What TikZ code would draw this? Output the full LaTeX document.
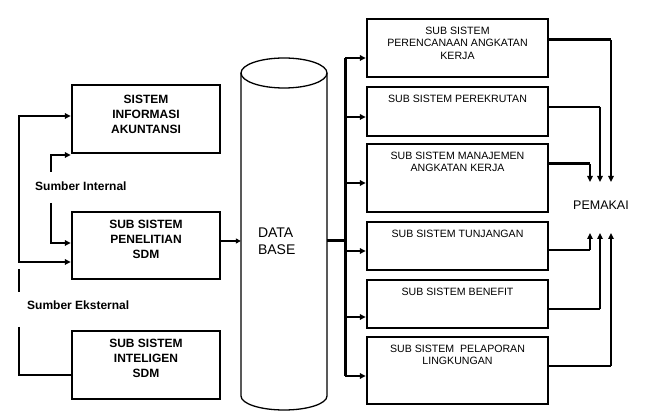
\documentclass[tikz,border=0pt]{standalone}
\usepackage{fontspec}
\setmainfont{Liberation Sans}
\usetikzlibrary{arrows.meta}
\begin{document}
\begin{tikzpicture}[x=1pt,y=-1pt,
  lbox/.style={draw,line width=2.4pt,minimum width=148pt,inner sep=0pt},
  rbox/.style={draw,line width=2.4pt,minimum width=181pt,inner sep=0pt},
  ltxt/.style={font=\bfseries\fontsize{12}{15}\selectfont,align=center,inner sep=0pt},
  rtxt/.style={font=\fontsize{10.6}{12.5}\selectfont,align=center,inner sep=0pt},
  srctxt/.style={font=\bfseries\fontsize{12}{14}\selectfont,inner sep=0pt,anchor=west},
  conn/.style={line width=2pt},
  thickconn/.style={line width=3pt},
  arr/.style={conn,-{Triangle[length=6pt,width=5.5pt]}},
  cyl/.style={line width=1.3pt}
]
\useasboundingbox (0,0) rectangle (645,419);

% left boxes
\node[lbox,minimum height=68pt,label={[ltxt,anchor=north,yshift=-11pt]north:{SISTEM\\INFORMASI\\AKUNTANSI}}] (L1) at (146,119) {};
\node[lbox,minimum height=67pt,label={[ltxt,anchor=north,yshift=-9pt]north:{SUB SISTEM\\PENELITIAN\\SDM}}] (L2) at (146,245.5) {};
\node[lbox,minimum height=68pt,label={[ltxt,anchor=north,yshift=-9pt]north:{SUB SISTEM\\INTELIGEN\\SDM}}] (L3) at (146,365) {};

\node[srctxt] (si) at (35,186) {Sumber Internal};
\node[srctxt] (se) at (27,305) {Sumber Eksternal};

% database cylinder
\draw[cyl] (241,73) -- (241,396) arc (180:360:43pt and 14pt) -- (327,73);
\draw[cyl] (284,73) ellipse (43pt and 15pt);
\node[font=\fontsize{14}{17}\selectfont,align=left,text width=52pt,inner xsep=17pt,inner ysep=0pt] (db) at (284,241) {DATA\\BASE};

% right boxes
\node[rbox,minimum height=58pt,label={[rtxt,anchor=north,yshift=-9pt]north:{SUB SISTEM\\PERENCANAAN ANGKATAN\\KERJA}}] (R1) at (457.5,48) {};
\node[rbox,minimum height=49pt,label={[rtxt,anchor=north,yshift=-9pt]north:{SUB SISTEM PEREKRUTAN}}] (R2) at (457.5,111.5) {};
\node[rbox,minimum height=68pt,label={[rtxt,anchor=north,yshift=-9pt]north:{SUB SISTEM MANAJEMEN\\ANGKATAN KERJA}}] (R3) at (457.5,178) {};
\node[rbox,minimum height=48pt,label={[rtxt,anchor=north,yshift=-9pt]north:{SUB SISTEM TUNJANGAN}}] (R4) at (457.5,246) {};
\node[rbox,minimum height=48pt,label={[rtxt,anchor=north,yshift=-9pt]north:{SUB SISTEM BENEFIT}}] (R5) at (457.5,304) {};
\node[rbox,minimum height=67pt,label={[rtxt,anchor=north,yshift=-9pt]north:{SUB SISTEM\ \ PELAPORAN\\LINGKUNGAN}}] (R6) at (457.5,370.5) {};

\node[font=\fontsize{12.5}{15}\selectfont,inner sep=0pt] (pm) at (601,205) {PEMAKAI};

% left connectors
\coordinate (o1) at (19,116);
\coordinate (o2) at (19,262);
\draw[conn,{Triangle[length=6pt,width=5.5pt]}-{Triangle[length=6pt,width=5.5pt]}] (o1 -| L1.west) -- (o1) -- (o2) -- (o2 -| L2.west);
\coordinate (e1) at (19,269);
\coordinate (e2) at (19,292);
\coordinate (e3) at (19,327);
\coordinate (e4) at (19,375);
\draw[conn] (e2) -- (e1);
\draw[conn] (e3) -- (e4) -- (e4 -| L3.west);
\coordinate (i1) at (51,172);
\coordinate (i2) at (51,155);
\coordinate (i3) at (51,203);
\coordinate (i4) at (51,243);
\draw[arr] (i1) -- (i2) -- (i2 -| L1.west);
\draw[arr] (i3) -- (i4) -- (i4 -| L2.west);

% into database
\draw[line width=1.5pt,-{Triangle[length=5pt,width=5pt]}] (L2.east |- db.west) -- (db.west);

% bus
\coordinate (b1) at (345,58);
\coordinate (b2) at (345,117);
\coordinate (b3) at (345,183);
\coordinate (b4) at (345,251);
\coordinate (b5) at (345,317);
\coordinate (b6) at (345,376);
\draw[thickconn] (db.east) -- (db.east -| b1);
\draw[thickconn] (b1) -- (b6);
\draw[arr] (b1) -- (b1 -| R1.west);
\draw[arr] (b2) -- (b2 -| R2.west);
\draw[arr] (b3) -- (b3 -| R3.west);
\draw[arr] (b4) -- (b4 -| R4.west);
\draw[arr] (b5) -- (b5 -| R5.west);
\draw[arr] (b6) -- (b6 -| R6.west);

% to PEMAKAI
\coordinate (pd) at (0,182);
\coordinate (pu) at (0,233);
\coordinate (h1) at (611,40);
\coordinate (h2) at (600,107);
\coordinate (h3) at (590,164);
\coordinate (h4) at (590,250);
\coordinate (h5) at (600,309);
\coordinate (h6) at (611,366);
\draw[thickconn] (h1 -| R1.east) -- (h1);
\draw[arr] (h1) -- (h1 |- pd);
\draw[conn] (h2 -| R2.east) -- (h2);
\draw[arr] (h2) -- (h2 |- pd);
\draw[thickconn] (h3 -| R3.east) -- (h3);
\draw[arr] (h3) -- (h3 |- pd);
\draw[conn] (h4 -| R4.east) -- (h4);
\draw[arr] (h4) -- (h4 |- pu);
\draw[conn] (h5 -| R5.east) -- (h5);
\draw[arr] (h5) -- (h5 |- pu);
\draw[conn] (h6 -| R6.east) -- (h6);
\draw[arr] (h6) -- (h6 |- pu);
\end{tikzpicture}
\end{document}
